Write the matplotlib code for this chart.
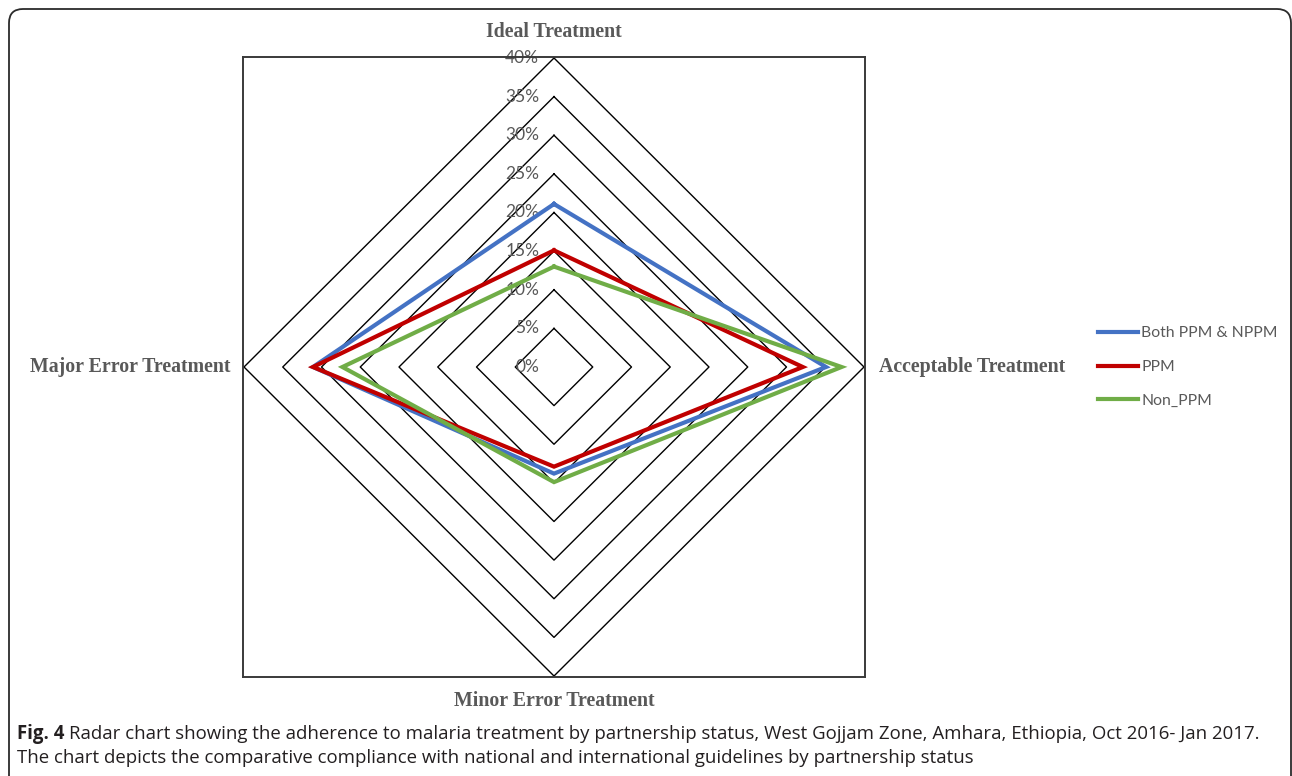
import matplotlib.pyplot as plt
import numpy as np
from matplotlib.patches import FancyBboxPatch

# data
categories = ['Ideal Treatment', 'Acceptable Treatment', 'Minor Error Treatment', 'Major Error Treatment']
both_ppm = [21.1, 35.1, 13.8, 31.1]
ppm = [15.1, 32.1, 12.9, 31.1]
non_ppm = [13.0, 37.1, 14.9, 27.3]
series_names = ['Both PPM & NPPM', 'PPM', 'Non_PPM']
series_colors = ['#4472C4', '#C00000', '#70AD47']
grid_levels = [0, 5, 10, 15, 20, 25, 30, 35, 40]
tick_labels = ['0%', '5%', '10%', '15%', '20%', '25%', '30%', '35%', '40%']

W, H = 1292, 776
fig = plt.figure(figsize=(W / 100, H / 100), dpi=100)

# radar axis in cartesian coords (top, right, bottom, left)
angles = np.array([0, 90, 180, 270]) * np.pi / 180


def to_xy(vals):
    v = np.asarray(vals, dtype=float)
    x = v * np.sin(angles)
    y = v * np.cos(angles)
    return np.append(x, x[0]), np.append(y, y[0])


ax = fig.add_axes([243 / W, 1 - 677 / H, 622 / W, 620 / H])
lim = 40 * 311 / 310
ax.set_xlim(-lim, lim)
ax.set_ylim(-lim, lim)
ax.set_xticks([])
ax.set_yticks([])
for s in ax.spines.values():
    s.set_color('#3a3a3a')
    s.set_linewidth(1.4)

# diamond grid
for lv in grid_levels[1:]:
    gx, gy = to_xy([lv] * 4)
    ax.plot(gx, gy, color='black', lw=1.0, zorder=1)

# series
for vals, name, col in zip([both_ppm, ppm, non_ppm], series_names, series_colors):
    px, py = to_xy(vals)
    ax.plot(px, py, color=col, lw=3.0, solid_joinstyle='miter', label=name, zorder=3)

# tick labels on the vertical axis
for lv, lab in zip(grid_levels, tick_labels):
    ax.text(-1.9, lv, lab, ha='right', va='center', fontsize=12.5,
            color='#595959', family='Lato', zorder=2)

# category labels
lab_kw = dict(fontsize=14.3, fontweight='bold', color='#595959', family='Liberation Serif')
fig.text(554 / W, 1 - 32 / H, categories[0], ha='center', va='center', **lab_kw)
fig.text(879 / W, 1 - 367 / H, categories[1], ha='left', va='center', **lab_kw)
fig.text(554 / W, 1 - 701 / H, categories[2], ha='center', va='center', **lab_kw)
fig.text(230 / W, 1 - 367 / H, categories[3], ha='right', va='center', **lab_kw)

# legend
leg = fig.legend(loc='center left', bbox_to_anchor=(1084 / W, 1 - 367 / H), frameon=False,
                 handlelength=2.55, handletextpad=0.2, labelspacing=1.25,
                 prop={'family': 'Lato', 'size': 11.3})
for t in leg.get_texts():
    t.set_color('#595959')

# caption
cap_kw = dict(fontsize=13.4, color='#231f20', family='Open Sans', va='center')
t1 = fig.text(17 / W, 1 - 734 / H, 'Fig. 4', fontweight='bold', ha='left', **cap_kw)
fig.canvas.draw()
bb = t1.get_window_extent()
fig.text((bb.x1 + 5) / W, 1 - 734 / H,
         'Radar chart showing the adherence to malaria treatment by partnership status, '
         'West Gojjam Zone, Amhara, Ethiopia, Oct 2016- Jan 2017.', ha='left', **cap_kw)
fig.text(17 / W, 1 - 758 / H,
         'The chart depicts the comparative compliance with national and international '
         'guidelines by partnership status', ha='left', **cap_kw)

# rounded outer frame
frame = FancyBboxPatch((9, -40), 1282, H - 9 + 40, boxstyle='round,pad=0,rounding_size=14',
                       transform=None, fill=False, edgecolor='#2b2b2b', lw=1.3)
fig.patches.append(frame)

fig.savefig('out.png', dpi=100)
